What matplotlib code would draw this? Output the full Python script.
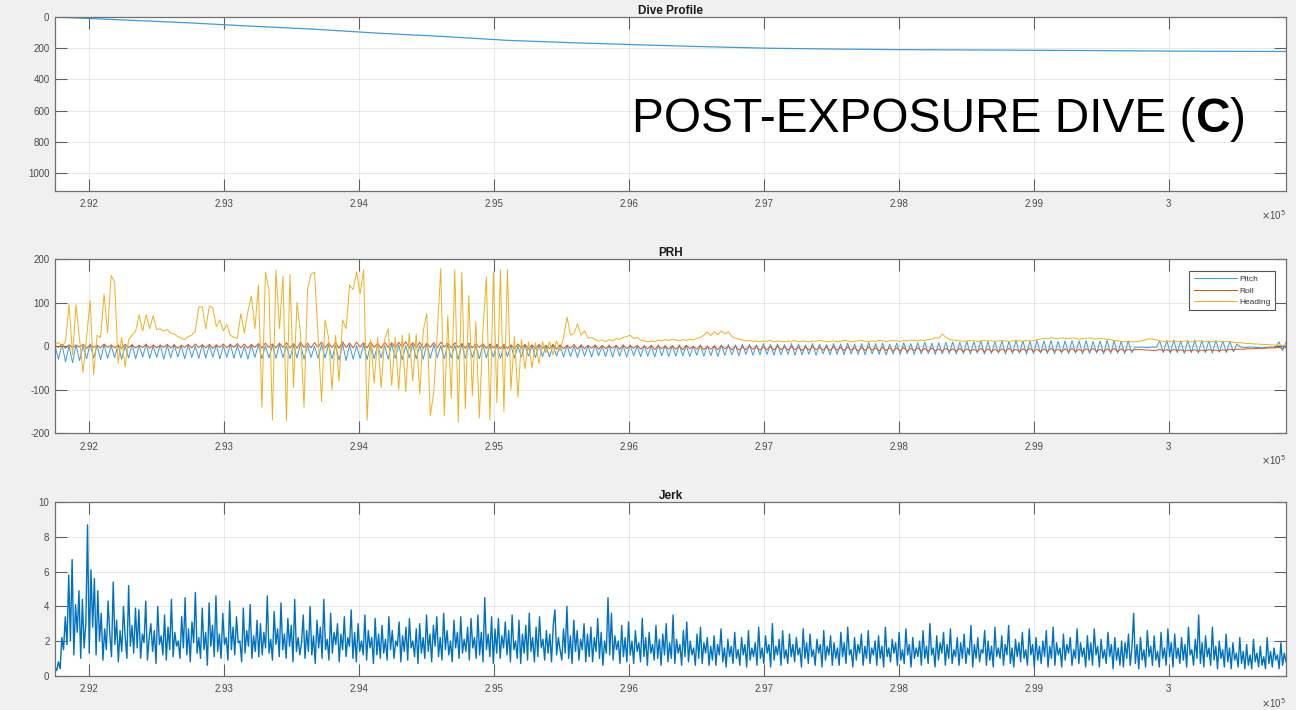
import numpy as np
import matplotlib
matplotlib.use("Agg")
import matplotlib.pyplot as plt
from matplotlib.ticker import FixedLocator, FuncFormatter

plt.rcParams["font.family"] = ["Liberation Sans", "DejaVu Sans"]
plt.rcParams["axes.unicode_minus"] = False

# ---------------------------------------------------------------- data
t_start, t_end = 291750, 300870
x_ticks = [292000, 293000, 294000, 295000, 296000, 297000, 298000, 299000, 300000]

depth = [0, 18, 36, 58, 78, 104, 125, 150, 165, 178, 190, 200, 205, 209, 211,
         213, 215, 218, 220, 221]

pitch = [
    2, -30, 4, -36, 1, -38, 3, -33, 0, -29, 5, -27, 2, -31, 4, -28,
    1, -26, 3, -30, 0, -27, 4, -29, 2, -25, 5, -28, 1, -26, 3, -30,
    2, -27, 4, -25, 1, -29, 3, -26, 0, -28, 4, -27, 2, -25, 3, -29,
    1, -26, 5, -28, 2, -27, 0, -30, 3, -26, 4, -29, 1, -27, 2, -28,
    4, -26, 1, -29, 3, -27, 5, -30, 2, -26, 0, -28, 3, -27, 4, -29,
    2, -32, 5, -33, 3, -30, 1, -28, 4, -31, 6, -29, 3, -27, 2, -30,
    5, -28, 3, -31, 1, -27, 4, -29, 2, -30, 5, -28, 3, -26, 1, -29,
    4, -27, 2, -30, 5, -28, 3, -26, 1, -29, 4, -27, 2, -25, 3, -28,
    1, -24, 2, -27, 0, -25, 3, -23, 1, -26, 2, -24, 0, -25, 3, -23,
    1, -25, 2, -24, 0, -26, 3, -23, 1, -25, 2, -22, 0, -24, 3, -25,
    2, -23, 1, -25, 3, -22, 0, -24, 2, -23, 1, -25, 3, -22, 2, -24,
    1, -23, 3, -22, 2, -24, 0, -21, 3, -23, 1, -22, 2, -24, 3, -21,
    4, -20, 3, -22, 5, -19, 4, -21, 3, -20, 6, -19, 4, -21, 5, -20,
    4, -19, 6, -21, 5, -20, 3, -19, 6, -21, 5, -18, 4, -20, 6, -19,
    5, -20, 7, -18, 5, -19, 6, -20, 8, -18, 6, -19, 7, -20, 5, -18,
    7, -19, 8, -17, 6, -19, 8, -18, 9, -17, 7, -19, 8, -18, 9, -17,
    10, -18, 9, -17, 11, -18, 10, -16, 12, -18, 11, -17, 10, -16, 12, -18,
    11, -17, 13, -16, 12, -18, 11, -17, 13, -16, 12, -17, 13, -18, 11, -16,
    12, -17, 13, -16, 12, -18, 13, -17, 11, -16, 12, -18, 13, -17, 12, -16,
    11, -17, 12, -15,
    -2, -3, -2, -3, -3, -2, -3,
    12, -15, 13, -16, 14, -15, 12, -17, 13, -15, 14, -16, 13, -15, 12, -16,
    13, -14, 12, -15, 11, -13, 5,
    -2, -3, -3, -2, -3, -3, -4, -3, -3, -2, -3,
    10, -10, 9,
]

roll = [
    2, -3, 4, -5, 3, -4, 2, -2, 4, -5, 3, -3, 2, -4, 5, -3,
    3, -4, 2, -5, 4, -3, 3, -4, 2, -3, 4, -5, 3, -4, 2, -3,
    4, -4, 3, -5, 2, -3, 4, -4, 5, -3, 3, -4, 4, -5, 3, -3,
    5, -4, 4, -3, 6, -4, 5, -5, 4, -3, 6, -4, 7, -3, 5, -4,
    7, -3, 8, -4, 6, -5, 9, -3, 7, -4, 8, -2, 9, -4, 7, -3,
    8, -5, 10, -3, 7, -4, 9, -2, 8, -4, 10, -3, 7, -5, 9, -3,
    8, -4, 9, -2, 10, -4, 8, -3, 9, -5, 7, -3, 8, -4, 9, -2,
    7, -4, 8, -3, 6, -5, 7, -4, 5, -3, 6, -5, 5, -4, 4, -6,
    4, -5, 3, -6, 5, -5, 4, -7, 3, -6, 4, -5, 2, -6, 4, -7,
    3, -6, 2, -5, 4, -7, 3, -6, 2, -5, 3, -7, 2, -6, 1, -5,
    2, -7, 3, -6, 1, -5, 2, -7, 0, -6, 2, -8, 1, -6, 0, -7,
    1, -7, 0, -8, 2, -6, 0, -7, 1, -8, -1, -7, 0, -8, 1, -6,
    -1, -8, 0, -9, -2, -8, 0, -7, -1, -9, -2, -8, -1, -9, 0, -8,
    -2, -9, -1, -8, -3, -10, -2, -9, -1, -8, -3, -9, -2, -10, -1, -9,
    -3, -10, -2, -9, -4, -11, -3, -10, -2, -9, -4, -11, -3, -10, -4, -11,
    -4, -11, -3, -12, -5, -10, -4, -11, -5, -12, -4, -11, -6, -12, -5, -11,
    -6, -12, -5, -13, -6, -11, -7, -12, -5, -13, -6, -12, -7, -13, -6, -12,
    -5, -12, -7, -13, -6, -11, -5, -12, -7, -13, -6, -12, -5, -11, -7, -13,
    -6, -12, -5, -13, -7, -12, -6, -11, -5, -12, -7, -13, -6, -12, -5, -13,
    -6, -12, -7, -10,
    -8, -8, -8, -9, -9, -10, -10,
    -7, -11, -8, -12, -7, -11, -8, -12, -9, -11, -8, -12, -9, -11, -8, -10,
    -9, -11, -8, -10, -7, -9, -7,
    -7, -7, -6, -6, -6, -5, -5, -5, -4, -4, -4,
    -3, -5, -3,
]

heading = [
    5, 8, 0, 10, 95, -20, 95, 15, -60, 20, 105, -65, 25, 20, 120, 30,
    162, 147, -40, 20, -48, 15, 25, 35, 72, 35, 72, 40, 70, 38, 40, 35,
    38, 30, 28, 22, 18, 15, 22, 25, 35, 90, 90, 40, 92, 88, 45, 60,
    35, 50, 25, 20, 18, 75, 30, 80, 115, 40, 140, -140, 170, 130, -170, 175,
    40, 160, -172, 165, -95, 100, 30, -140, 130, 165, 170, 25, -127, 60, 20, -100,
    25, -80, 60, 40, 140, 130, 170, 120, 175, -170, 15, -85, 20, -95, 15, 40,
    -90, 20, -100, 25, -105, 30, -80, 28, -110, 35, 75, -160, -106, 30, 178, -160,
    70, -120, 175, -174, 170, -144, 116, -113, 56, -165, 35, 159, -170, 171, -130, 175,
    -150, 175, -100, 22, -117, 15, -52, 10, -50, 8, -40, 10, -15, 10, -20, 12,
    -10, 20, 67, 25, 30, 51, 25, 35, 18, 20, 15, 12, 14, 10, 15, 12,
    18, 15, 20, 22, 25, 18, 20, 14, 12, 10, 12, 10, 14, 12, 15, 13,
    16, 14, 12, 15, 13, 16, 14, 18, 20, 25, 33, 24, 34, 26, 35, 28,
    33, 22, 18, 16, 14, 12, 13, 11, 12, 10, 12, 11, 13, 10, 12, 11,
    10, 12, 11, 13, 10, 12, 11, 10, 12, 11, 13, 12, 10, 11, 12, 10,
    11, 13, 12, 10, 11, 12, 13, 11, 10, 12, 11, 13, 12, 11, 12, 13,
    12, 11, 13, 12, 14, 13, 12, 14, 13, 15, 16, 20, 18, 28, 20, 16,
    14, 13, 12, 11, 12, 13, 12, 11, 12, 13, 12, 12, 11, 12, 13, 12,
    11, 12, 13, 12, 11, 13, 12, 12, 15, 16, 18, 17, 19, 18, 17, 19,
    18, 17, 19, 18, 16, 17, 18, 19, 17, 16, 18, 17, 16, 15, 13, 12,
    11, 10, 11, 10, 10, 11, 12, 15, 17, 16, 15, 12, 11, 10, 11, 12,
    11, 10, 12, 11, 10, 11, 12, 11, 10, 11, 10, 12, 11, 10, 11, 10,
    9, 8, 8, 7, 6, 6, 5, 5, 4, 4, 3, 3, 2, 2, 1, 1,
]

jerk = [
    0.5, 0.3, 0.8, 0.4, 2.2, 1.5, 3.4, 1.8, 5.8, 2.0, 6.7, 1.2, 4.1, 2.5, 4.9, 1.0, 4.4, 1.6, 3.0, 8.7, 1.3, 6.1, 2.8, 5.6,
    1.2, 4.9, 2.0, 3.6, 0.9, 2.7, 1.5, 4.3, 2.4, 1.1, 5.4, 1.8, 3.2, 0.8, 2.6, 1.4, 4.0, 2.2, 1.0, 5.2, 1.7, 2.9, 1.3, 3.9,
    1.6, 3.8, 1.0, 2.4, 1.9, 4.3, 0.9, 2.2, 3.0, 1.4, 2.6, 0.7, 4.0, 1.8, 2.3, 1.2, 3.5, 0.9, 2.8, 1.5, 4.4, 1.1, 2.5, 1.7,
    2.0, 1.0, 3.4, 1.6, 4.5, 1.2, 2.7, 0.8, 3.1, 1.9, 4.8, 1.3, 2.2, 1.0, 3.9, 1.5, 2.5, 0.6, 4.2, 1.7, 2.9, 1.1, 4.6, 1.4,
    2.4, 1.0, 3.6, 1.8, 2.2, 0.9, 4.3, 1.5, 2.8, 1.2, 3.4, 1.9, 2.0, 0.8, 3.9, 1.3, 2.6, 1.7, 4.1, 1.0, 2.3, 1.4, 3.2, 1.1,
    3.0, 1.2, 2.5, 1.6, 4.6, 1.3, 2.1, 0.9, 3.7, 1.8, 2.7, 1.1, 4.2, 1.5, 2.4, 1.0, 3.3, 1.7, 2.9, 0.8, 4.4, 1.4, 2.2, 1.2,
    1.9, 3.5, 1.0, 2.6, 1.4, 4.0, 1.2, 2.3, 0.7, 3.2, 1.6, 2.8, 1.0, 4.4, 1.5, 2.1, 0.9, 3.6, 1.3, 2.5, 1.8, 3.0, 0.8, 2.4,
    1.5, 3.4, 1.1, 2.2, 1.7, 3.8, 1.0, 2.5, 0.8, 3.0, 1.4, 2.0, 1.2, 3.5, 0.9, 2.6, 1.6, 2.2, 0.7, 3.3, 1.2, 2.4, 1.0, 2.9,
    1.3, 2.1, 0.9, 3.4, 1.5, 2.6, 1.0, 2.0, 1.7, 3.1, 0.8, 2.3, 1.4, 2.8, 0.9, 3.3, 1.6, 2.0, 1.1, 2.7, 0.7, 3.0, 1.3, 2.2,
    1.0, 3.5, 1.4, 2.4, 0.8, 2.9, 1.7, 3.4, 1.1, 2.2, 0.9, 3.6, 1.5, 2.6, 1.2, 2.0, 0.8, 3.2, 1.6, 2.5, 1.0, 3.4, 1.3, 2.1,
    1.4, 2.8, 0.9, 3.3, 1.6, 2.2, 1.0, 3.5, 1.2, 2.5, 0.8, 4.5, 1.5, 2.4, 1.1, 3.4, 0.7, 2.7, 1.3, 3.3, 1.0, 2.3, 1.6, 3.1,
    1.2, 2.6, 0.8, 3.5, 1.5, 2.0, 1.0, 3.2, 0.7, 2.4, 1.3, 2.9, 0.9, 3.6, 1.4, 2.2, 0.8, 2.8, 1.1, 3.4, 1.6, 2.1, 0.9, 2.6,
    1.3, 2.4, 0.8, 2.9, 3.8, 1.2, 2.2, 1.5, 0.9, 2.7, 1.3, 4.0, 1.0, 2.3, 0.7, 3.2, 1.4, 2.6, 0.9, 2.1, 1.5, 3.0, 0.8, 2.4,
    1.1, 2.8, 0.8, 2.2, 1.4, 3.3, 1.0, 2.5, 0.6, 2.0, 1.3, 4.5, 1.2, 3.6, 0.9, 2.3, 1.5, 2.0, 0.7, 2.9, 1.1, 2.2, 0.8, 3.1,
    1.2, 2.0, 0.7, 2.6, 1.4, 1.9, 0.8, 3.3, 1.1, 2.2, 0.6, 2.5, 1.3, 1.8, 0.9, 2.9, 1.0, 2.1, 0.6, 2.4, 1.2, 3.0, 0.8, 1.9,
    1.0, 3.5, 0.7, 2.1, 1.3, 1.8, 0.6, 2.6, 1.1, 3.1, 0.8, 2.0, 1.2, 1.6, 0.6, 2.4, 1.0, 2.8, 0.7, 1.9, 1.3, 2.2, 0.6, 1.7,
    0.9, 2.3, 0.6, 1.8, 1.2, 2.7, 0.8, 1.6, 0.5, 2.1, 1.1, 1.7, 0.7, 2.5, 1.0, 1.5, 0.6, 2.2, 1.2, 1.8, 0.5, 2.6, 0.9, 1.6,
    1.1, 1.9, 0.6, 2.8, 1.0, 1.6, 0.7, 2.3, 1.3, 1.8, 0.5, 3.0, 0.9, 1.7, 1.2, 2.1, 0.6, 2.6, 1.0, 1.5, 0.7, 2.4, 1.1, 1.8,
    0.8, 2.2, 1.2, 1.6, 0.5, 2.7, 1.0, 1.9, 0.7, 2.4, 1.1, 1.5, 0.6, 2.1, 1.3, 1.8, 0.5, 2.6, 0.9, 1.7, 1.2, 2.3, 0.6, 1.9,
    1.0, 1.6, 0.6, 2.5, 1.1, 1.9, 0.7, 2.8, 1.2, 1.5, 0.5, 2.2, 0.9, 1.8, 1.3, 2.4, 0.6, 1.7, 1.0, 2.6, 0.7, 1.6, 1.2, 2.0,
    0.6, 2.3, 1.0, 1.7, 0.5, 2.8, 1.1, 1.6, 0.8, 2.1, 1.3, 1.9, 0.6, 2.5, 0.9, 1.5, 0.7, 2.7, 1.2, 1.8, 0.5, 2.2, 1.0, 1.6,
    1.1, 2.0, 0.6, 2.6, 1.0, 1.7, 0.7, 3.0, 1.2, 1.6, 0.5, 2.3, 0.9, 1.9, 1.3, 2.5, 0.6, 1.8, 1.0, 2.7, 0.7, 1.5, 1.1, 2.2,
    0.6, 1.9, 1.0, 2.4, 0.7, 1.6, 1.2, 2.9, 0.5, 1.8, 1.0, 2.2, 0.8, 1.5, 1.3, 2.6, 0.6, 2.0, 0.9, 1.7, 0.5, 2.8, 1.1, 1.6,
    1.0, 2.3, 0.6, 1.8, 1.2, 2.9, 0.7, 1.6, 0.5, 2.1, 1.1, 1.9, 0.8, 2.5, 1.0, 1.5, 0.6, 2.7, 1.2, 1.8, 0.5, 2.2, 0.9, 1.7,
    0.7, 2.0, 1.1, 2.6, 0.5, 1.7, 1.0, 2.8, 0.6, 1.9, 1.2, 1.6, 0.5, 2.4, 0.9, 1.8, 1.3, 2.2, 0.6, 1.5, 1.0, 2.7, 0.7, 1.9,
    1.1, 1.6, 0.5, 2.3, 0.9, 1.9, 0.6, 2.7, 1.2, 1.7, 0.5, 2.1, 1.0, 1.5, 0.7, 2.5, 1.1, 1.8, 0.4, 2.2, 0.9, 1.6, 0.6, 2.0,
    0.5, 1.9, 1.0, 2.4, 0.6, 1.6, 3.6, 0.7, 1.8, 0.4, 2.2, 0.9, 1.5, 0.5, 2.6, 1.1, 1.7, 0.6, 2.3, 0.9, 1.4, 0.5, 2.5, 1.0,
    1.6, 0.6, 2.7, 1.1, 1.9, 0.5, 2.4, 1.0, 1.6, 0.7, 2.2, 0.9, 1.8, 0.5, 2.8, 1.2, 1.5, 0.6, 2.1, 1.0, 3.5, 0.7, 1.9, 0.5,
    2.3, 1.1, 1.6, 0.6, 2.8, 0.9, 1.7, 0.4, 2.0, 1.0, 1.5, 0.5, 2.4, 0.8, 1.6, 0.4, 1.9, 0.9, 1.3, 0.5, 2.2, 0.7, 1.4, 0.4,
    1.8, 0.6, 1.2, 0.4, 2.1, 0.8, 1.3, 0.5, 1.7, 0.6, 1.1, 0.4, 2.2, 0.7, 1.4, 0.5, 1.6, 0.9, 1.2, 0.4, 1.9, 0.6, 1.3, 0.8,
]

# ---------------------------------------------------------------- style
BG = "#f0f0f0"
C_BLUE = "#0072BD"
C_PITCH = "#3d9bd8"
C_ROLL = "#D95319"
C_HEAD = "#EDB120"
AX_EDGE = "#707070"
TICK_TXT = "#4a4a4a"


def times(values):
    return np.linspace(t_start, t_end, len(values))


fig = plt.figure(figsize=(12.96, 7.10), dpi=100, facecolor=BG)

W = 1296.0
H = 710.0
left, width = 55 / W, 1231 / W
ax_dive = fig.add_axes([left, 1 - 191 / H, width, 174 / H])
ax_prh = fig.add_axes([left, 1 - 433.3 / H, width, 174.3 / H])
ax_jerk = fig.add_axes([left, 1 - 675.7 / H, width, 173.4 / H])


def style(ax, title, yticks, offset_y):
    ax.set_facecolor("white")
    ax.set_xlim(t_start, t_end)
    ax.xaxis.set_major_locator(FixedLocator(x_ticks))
    ax.xaxis.set_major_formatter(FuncFormatter(lambda v, p: "%g" % (v / 1e5)))
    ax.set_yticks(yticks)
    ax.grid(True, color="#e3e3e3", linewidth=0.6)
    ax.set_axisbelow(True)
    for s in ax.spines.values():
        s.set_color(AX_EDGE)
        s.set_linewidth(0.9)
    ax.tick_params(axis="both", direction="in", length=8.5, width=0.8,
                   color="#606060", labelsize=7, labelcolor=TICK_TXT,
                   top=True, right=True)
    ax.tick_params(axis="x", pad=6)
    ax.tick_params(axis="y", pad=4)
    ax.set_title(title, fontsize=8.5, fontweight="bold", pad=2.5, color="#1a1a1a")
    ax.text(1.0, offset_y, r"$\times$10$^5$", transform=ax.transAxes,
            ha="right", va="center", fontsize=7, color=TICK_TXT)


# Dive profile
style(ax_dive, "Dive Profile", [0, 200, 400, 600, 800, 1000], -0.138)
ax_dive.plot(times(depth), depth, color=C_PITCH, linewidth=0.9)
ax_dive.set_ylim(1115, 0)

# PRH
style(ax_prh, "PRH", [-200, -100, 0, 100, 200], -0.155)
ax_prh.plot(times(pitch), pitch, color=C_PITCH, linewidth=0.7, label="Pitch")
ax_prh.plot(times(roll), roll, color=C_ROLL, linewidth=0.7, label="Roll")
ax_prh.plot(times(heading), heading, color=C_HEAD, linewidth=0.7, label="Heading")
ax_prh.set_ylim(-200, 200)
leg = ax_prh.legend(loc="upper right", bbox_to_anchor=(0.991, 0.931),
                    borderaxespad=0, fontsize=6, handlelength=5.2,
                    handletextpad=0.3, labelspacing=0.45, borderpad=0.5,
                    fancybox=False, framealpha=1, edgecolor="#555555")
leg.get_frame().set_linewidth(0.8)
for txt in leg.get_texts():
    txt.set_color("#333333")

# Jerk
style(ax_jerk, "Jerk", [0, 2, 4, 6, 8, 10], -0.157)
ax_jerk.plot(times(jerk), jerk, color=C_BLUE, linewidth=1.0)
ax_jerk.set_ylim(0, 10)

# Panel label, with a bold letter inside the parentheses
fig.canvas.draw()
renderer = fig.canvas.get_renderer()
x0, y0 = 632 / W, 1 - 132 / H
parts = [("POST-EXPOSURE DIVE (", "normal"), ("C", "bold"), (")", "normal")]
x = x0
for s, w in parts:
    t = fig.text(x, y0, s, fontsize=34.5, fontweight=w, color="black",
                 ha="left", va="baseline")
    bb = t.get_window_extent(renderer=renderer)
    x = bb.x1 / W

fig.savefig("out.png", dpi=100, facecolor=BG)
